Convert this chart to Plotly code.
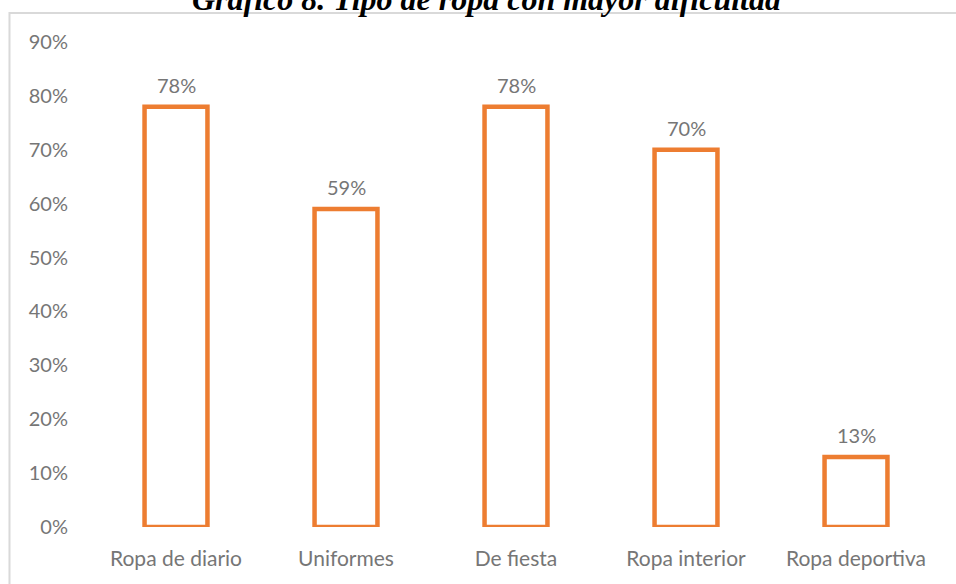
import plotly.graph_objects as go

# Survey results: type of clothing with the greatest difficulty
categorias = ["Ropa de diario", "Uniformes", "De fiesta", "Ropa interior", "Ropa deportiva"]
porcentajes = [0.78, 0.59, 0.78, 0.70, 0.13]
y_ticks = [0, 0.1, 0.2, 0.3, 0.4, 0.5, 0.6, 0.7, 0.8, 0.9]

naranja = "#ED7D31"
gris_texto = "#767676"
fuente = "Lato"

fig = go.Figure()
fig.add_trace(go.Bar(
    x=categorias,
    y=porcentajes,
    width=0.37,
    marker=dict(color="white", line=dict(color=naranja, width=4.5)),
    hoverinfo="skip",
))

# value labels above each bar
for c, v in zip(categorias, porcentajes):
    fig.add_annotation(
        x=c, y=v, text=f"{round(v * 100)}%",
        xref="x", yref="y", yanchor="bottom", yshift=8,
        showarrow=False,
        font=dict(family=fuente, size=20, color=gris_texto),
    )

# chart title (partially above the page edge)
fig.add_annotation(
    x=0.466, y=1.0474, xref="paper", yref="paper",
    xanchor="center", yanchor="bottom", showarrow=False,
    text="Gráfico 8. Tipo de ropa con mayor dificultad",
    font=dict(family="Liberation Serif", size=32, color="black",
              weight="bold", style="italic"),
)

# light outer frame of the chart area
fig.add_shape(
    type="rect", xref="paper", yref="paper",
    x0=-0.0959, x1=1.2, y0=-0.3, y1=1.0598,
    line=dict(color="#D9D9D9", width=2),
    fillcolor="rgba(0,0,0,0)", layer="below",
)

fig.update_layout(
    width=956, height=584,
    margin=dict(l=91, r=15, t=42, b=57),
    paper_bgcolor="white", plot_bgcolor="white",
    showlegend=False,
    xaxis=dict(
        showline=False, showgrid=False, zeroline=False,
        tickfont=dict(family=fuente, size=21, color=gris_texto),
        ticks="", ticklabelstandoff=17,
    ),
    yaxis=dict(
        range=[0, 0.9], tickvals=y_ticks, tickformat=".0%",
        showline=False, showgrid=False, zeroline=False,
        tickfont=dict(family=fuente, size=20, color=gris_texto),
        ticks="", ticklabelstandoff=22,
    ),
)

fig.write_html("out.html")
